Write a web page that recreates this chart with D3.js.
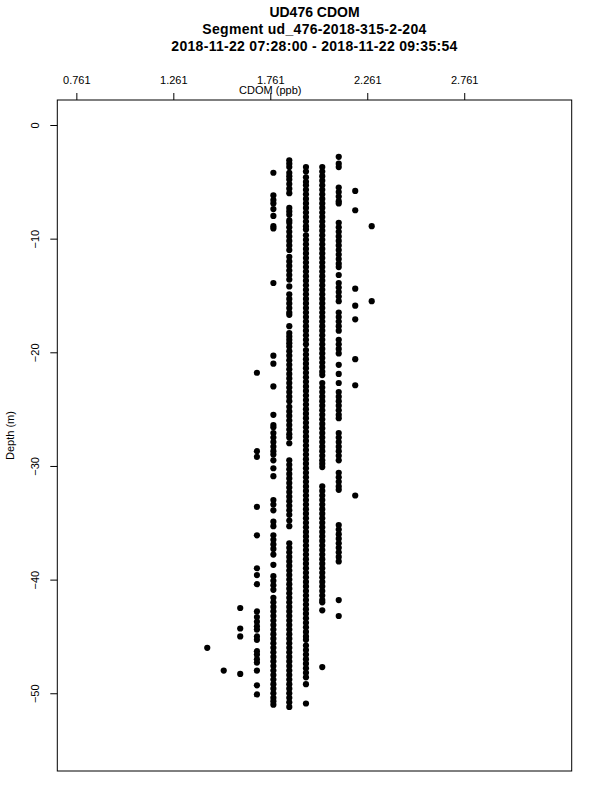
<!DOCTYPE html>
<html>
<head>
<meta charset="utf-8">
<script src="https://cdn.jsdelivr.net/npm/d3@7"></script>
<style>
  body { margin: 0; background: #fff; }
  text { font-family: "Liberation Sans", Arial, Helvetica, sans-serif; fill: #000; }
</style>
</head>
<body>
<svg width="600" height="800"></svg>
<script>
/*
Titles and axis labels
*/
var titleLines = ["UD476 CDOM", "Segment ud_476-2018-315-2-204", "2018-11-22 07:28:00 - 2018-11-22 09:35:54"];
var xLabel = "CDOM (ppb)",
    yLabel = "Depth (m)";

/*
Tick values for both axes
*/
var xTicks = [0.761, 1.261, 1.761, 2.261, 2.761];
var yTicks = [0, -10, -20, -30, -40, -50];

/*
CDOM levels (the sensor is quantized, so the points fall into columns)
and the depths for each level.
*/
var cdomLevels = [1.436, 1.521, 1.606, 1.692, 1.777, 1.859, 1.945, 2.029, 2.114, 2.199, 2.284];

var d1436 = [-46.0];
var d1521 = [-48.0];
var d1606 = [-42.5, -44.3, -45.0, -48.3];
var d1692 = [-21.8, -28.7, -29.2, -33.6, -36.1, -39.0, -39.6, -40.4, -42.8, -43.3, -43.7, -44.1, -44.4,
    -45.0, -45.3, -46.3, -46.6, -47.0, -47.3, -48.0, -49.3, -50.1];
var d1777 = [-4.2, -6.2, -6.6, -6.9, -7.4, -8.0, -8.9, -9.1, -13.9, -20.3, -21.0, -23.0, -25.5, -26.4,
    -26.6, -27.1, -27.5, -27.9, -28.3, -28.7, -29.0, -29.5, -30.2, -30.9, -33.0, -33.4, -33.9, -34.9,
    -35.3, -36.1, -36.5, -36.9, -37.3, -37.8, -38.7, -39.7, -40.1, -40.5, -40.9, -41.6, -42.0, -42.4,
    -42.8, -43.2, -43.6, -44.0, -44.4, -44.8, -45.2, -45.6, -46.0, -46.4, -46.8, -47.2, -47.6, -48.0,
    -48.4, -48.8, -49.2, -49.6, -50.0, -50.4, -50.7, -51.0];
var d1859 = [-3.1, -3.4, -3.7, -4.2, -4.5, -4.8, -5.2, -5.6, -6.0, -7.3, -7.6, -7.9, -8.4, -8.6, -9.0,
    -9.4, -9.8, -10.2, -10.6, -11.0, -11.6, -12.0, -12.4, -12.8, -13.2, -13.6, -14.2, -14.9, -15.3,
    -15.7, -16.1, -16.5, -16.7, -17.7, -18.3, -18.6, -18.9, -19.2, -19.5, -19.9, -20.3, -20.7, -21.1,
    -21.5, -21.9, -22.3, -22.7, -23.1, -23.5, -23.9, -24.3, -24.8, -25.2, -25.6, -26.0, -26.4, -26.8,
    -27.2, -27.5, -28.0, -29.5, -29.9, -30.3, -30.7, -31.1, -31.5, -31.9, -32.3, -32.7, -33.1, -33.5,
    -33.9, -34.3, -34.8, -35.3, -36.8, -37.2, -37.6, -38.0, -38.4, -38.8, -39.2, -39.6, -40.0, -40.4,
    -40.8, -41.2, -41.6, -42.0, -42.4, -42.8, -43.2, -43.6, -44.0, -44.4, -44.8, -45.2, -45.6, -46.0,
    -46.4, -46.8, -47.2, -47.6, -48.0, -48.4, -48.8, -49.2, -49.6, -50.0, -50.4, -50.8, -51.2];
var d1945 = [-3.7, -4.1, -4.6, -5.0, -5.3, -5.7, -6.1, -6.5, -6.9, -7.3, -7.7, -8.1, -8.5, -8.9, -9.2,
    -9.7, -10.1, -10.5, -10.9, -11.3, -11.7, -12.1, -12.5, -12.9, -13.3, -13.7, -14.1, -14.5, -14.9,
    -15.3, -15.7, -16.1, -16.5, -16.9, -17.3, -17.7, -18.1, -18.5, -18.9, -19.3, -19.8, -20.2, -20.6,
    -21.0, -21.4, -21.8, -22.2, -22.6, -23.0, -23.4, -23.8, -24.2, -24.6, -25.0, -25.4, -25.8, -26.2,
    -26.6, -27.0, -27.4, -27.8, -28.2, -28.6, -29.0, -29.4, -29.8, -30.2, -30.6, -31.0, -31.4, -31.8,
    -32.2, -32.6, -33.0, -33.4, -33.8, -34.2, -34.6, -35.0, -35.4, -35.8, -36.2, -36.6, -37.0, -37.4,
    -37.8, -38.2, -38.6, -39.0, -39.4, -39.8, -40.2, -40.6, -41.0, -41.4, -41.8, -42.2, -42.6, -43.0,
    -43.4, -43.8, -44.2, -44.6, -45.0, -45.3, -45.8, -46.2, -46.6, -47.0, -47.4, -47.8, -48.2, -48.6,
    -49.2, -50.9];
var d2029 = [-3.7, -4.1, -4.5, -4.9, -5.3, -5.7, -6.1, -6.5, -6.9, -7.3, -7.7, -8.1, -8.5, -8.9, -9.3,
    -9.7, -10.1, -10.5, -10.9, -11.3, -11.7, -12.1, -12.5, -12.9, -13.3, -13.7, -14.1, -14.5, -14.9,
    -15.3, -15.7, -16.1, -16.5, -16.9, -17.3, -17.7, -18.1, -18.5, -18.9, -19.3, -19.7, -20.1, -20.5,
    -20.9, -21.3, -21.7, -22.0, -22.7, -23.1, -23.5, -23.9, -24.3, -24.7, -25.1, -25.5, -25.9, -26.3,
    -26.7, -27.1, -27.5, -27.9, -28.3, -28.7, -29.1, -29.5, -29.8, -30.1, -31.8, -32.2, -32.6, -33.0,
    -33.4, -33.8, -34.2, -34.6, -35.0, -35.4, -35.8, -36.2, -36.6, -37.0, -37.4, -37.8, -38.2, -38.6,
    -39.0, -39.4, -39.8, -40.2, -40.6, -41.0, -41.4, -41.8, -42.0, -42.7, -47.7];
var d2114 = [-2.8, -3.4, -3.7, -5.5, -5.9, -6.3, -6.7, -6.9, -8.6, -9.0, -9.4, -9.8, -10.2, -10.6,
    -11.0, -11.4, -11.8, -12.2, -12.5, -13.2, -13.9, -14.3, -14.7, -15.1, -15.5, -16.5, -16.9, -17.3,
    -17.7, -18.1, -18.9, -19.3, -19.7, -20.1, -21.1, -21.9, -22.7, -23.5, -23.9, -24.3, -24.7, -25.1,
    -25.5, -25.8, -27.1, -27.5, -27.9, -28.3, -28.7, -29.1, -29.5, -30.6, -31.0, -31.4, -31.8, -32.1,
    -35.2, -35.6, -36.0, -36.4, -36.8, -37.2, -37.6, -38.0, -38.4, -41.8, -43.2];
var d2199 = [-5.8, -7.5, -14.4, -15.9, -17.1, -20.6, -22.9, -32.6];
var d2284 = [-8.9, -15.5];

var depthsByLevel = [d1436, d1521, d1606, d1692, d1777, d1859, d1945, d2029, d2114, d2199, d2284];

/*
Flatten into one point list for the scatter
*/
var points = [];
cdomLevels.forEach(function(c, i) {
    depthsByLevel[i].forEach(function(d) { points.push({cdom: c, depth: d}); });
});

/*
SVG and plot box
*/
var svg = d3.select("svg"),
    box = {left: 57.3, right: 571.7, top: 100, bottom: 771};

// axis limits padded 4% beyond the data range, the way R does it
var xScale = d3.scaleLinear().domain([0.6628, 3.3152]).range([box.left, box.right]),
    yScale = d3.scaleLinear().domain([-56.84, 2.2]).range([box.bottom, box.top]);

/*
Title, three bold lines
*/
svg.append("g").selectAll("text")
    .data(titleLines)
    .enter().append("text")
    .attr("x", (box.left + box.right) / 2)
    .attr("y", function(d, i) { return 16.5 + i * 17; })
    .attr("text-anchor", "middle")
    .style("font-size", "14px")
    .style("font-weight", "bold")
    .style("letter-spacing", function(d, i) { return i == 0 ? "0px" : "0.3px"; })
    .text(function(d) { return d; });

/*
Points
*/
svg.append("g").selectAll("circle")
    .data(points)
    .enter().append("circle")
    .attr("cx", function(d) { return xScale(d.cdom); })
    .attr("cy", function(d) { return yScale(d.depth); })
    .attr("r", 3.1)
    .attr("fill", "#000");

/*
Box
*/
svg.append("rect")
    .attr("x", box.left)
    .attr("y", box.top)
    .attr("width", box.right - box.left)
    .attr("height", box.bottom - box.top)
    .attr("fill", "none")
    .attr("stroke", "#000")
    .attr("stroke-width", 1);

/*
Top axis
*/
var xAxis = svg.append("g")
    .attr("transform", "translate(0," + box.top + ")")
    .call(d3.axisTop(xScale).tickValues(xTicks).tickFormat(d3.format(".3f")).tickSize(7).tickPadding(9).tickSizeOuter(0));
xAxis.select(".domain").remove();
xAxis.selectAll("text").style("font-size", "11px").attr("fill", "#000");

svg.append("text")
    .attr("x", xScale(1.761))
    .attr("y", 93.5)
    .attr("text-anchor", "middle")
    .style("font-size", "11px")
    .text(xLabel);

/*
Left axis, labels turned sideways
*/
var yAxis = svg.append("g")
    .attr("transform", "translate(" + box.left + ",0)")
    .call(d3.axisLeft(yScale).tickValues(yTicks).tickSize(7).tickSizeOuter(0));
yAxis.select(".domain").remove();
yAxis.selectAll("text")
    .attr("x", null)
    .attr("dy", null)
    .attr("text-anchor", "middle")
    .attr("transform", "translate(-18,0) rotate(-90)")
    .style("font-size", "11px")
    .attr("fill", "#000");

svg.append("text")
    .attr("transform", "translate(14," + ((box.top + box.bottom) / 2) + ") rotate(-90)")
    .attr("text-anchor", "middle")
    .style("font-size", "11px")
    .text(yLabel);
</script>
</body>
</html>
